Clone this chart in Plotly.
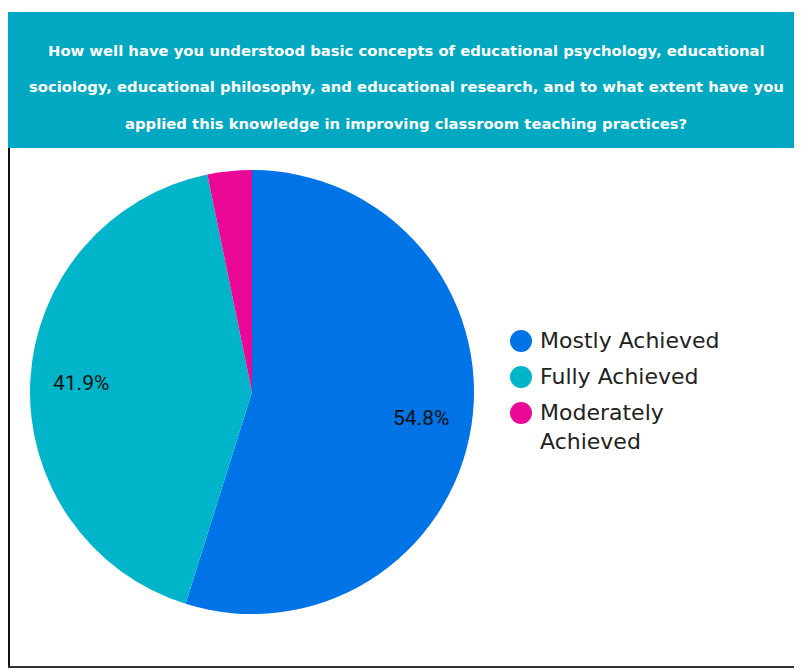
import math
import plotly.graph_objects as go

categories = ["Mostly Achieved", "Fully Achieved", "Moderately<br>Achieved"]
counts = [17, 13, 1]
colors = ["#0073E6", "#00B5C9", "#EC0896"]
show_label = [True, True, False]
title_lines = [
    "How well have you understood basic concepts of educational psychology, educational",
    "sociology, educational philosophy, and educational research, and to what extent have you",
    "applied this knowledge in improving classroom teaching practices?",
]

# the page draws the figure 8px in from the top-left corner
OFF = 8
W, H = 802 - OFF, 670 - OFF


def px(x):
    return (x - OFF) / W


def py(y):
    return 1 - (y - OFF) / H


total = sum(counts)
CX, CY, R = 252, 392, 222

fig = go.Figure()
fig.add_trace(go.Pie(
    labels=categories,
    values=counts,
    textinfo="none",
    marker=dict(colors=colors, line=dict(width=0)),
    sort=False,
    direction="clockwise",
    rotation=0,
    showlegend=False,
    hoverinfo="label+percent",
    domain=dict(x=[px(CX - R), px(CX + R)], y=[py(CY + R), py(CY - R)]),
))

shapes = [
    dict(type="rect", xref="paper", yref="paper", x0=px(8), x1=1, y0=py(148), y1=py(12),
         fillcolor="#00A9C1", line=dict(width=0), layer="below"),
    dict(type="line", xref="paper", yref="paper", x0=px(9), x1=px(9), y0=py(668), y1=py(148),
         line=dict(color="#111111", width=2)),
    dict(type="line", xref="paper", yref="paper", x0=px(8), x1=1, y0=py(667), y1=py(667),
         line=dict(color="#333333", width=2)),
]
annotations = []
for i, line in enumerate(title_lines):
    annotations.append(dict(
        text=line, xref="paper", yref="paper", x=px(406), y=py(50 + 36.5 * i),
        xanchor="center", yanchor="middle", showarrow=False,
        font=dict(family="DejaVu Sans", size=14.8, color="white", weight="bold"),
    ))

# percentage labels placed along each slice's mid-angle
cum = 0
for c, s in zip(counts, show_label):
    mid = (cum + c / 2) / total * 2 * math.pi
    cum += c
    if not s:
        continue
    lx = CX + 0.77 * R * math.sin(mid)
    ly = CY - 0.77 * R * math.cos(mid)
    annotations.append(dict(
        text=f"{c/total*100:.1f}%", xref="paper", yref="paper", x=px(lx), y=py(ly),
        xanchor="center", yanchor="middle", showarrow=False,
        font=dict(family="Roboto", size=21, color="#111111"),
    ))

legend_y = [341, 377, 413]
for cat, col, ly in zip(categories, colors, legend_y):
    shapes.append(dict(
        type="circle", xref="paper", yref="paper", xsizemode="pixel", ysizemode="pixel",
        xanchor=px(521), yanchor=py(ly), x0=-11, x1=11, y0=-11, y1=11,
        fillcolor=col, line=dict(width=0),
    ))
    annotations.append(dict(
        text=cat, xref="paper", yref="paper", x=px(538), y=py(ly - 15),
        xanchor="left", yanchor="top", align="left", showarrow=False,
        font=dict(family="DejaVu Sans", size=22, color="#222222"),
    ))

fig.update_layout(
    width=W, height=H,
    margin=dict(l=0, r=0, t=0, b=0),
    paper_bgcolor="white", plot_bgcolor="white",
    shapes=shapes, annotations=annotations,
)
fig.write_html("out.html")
